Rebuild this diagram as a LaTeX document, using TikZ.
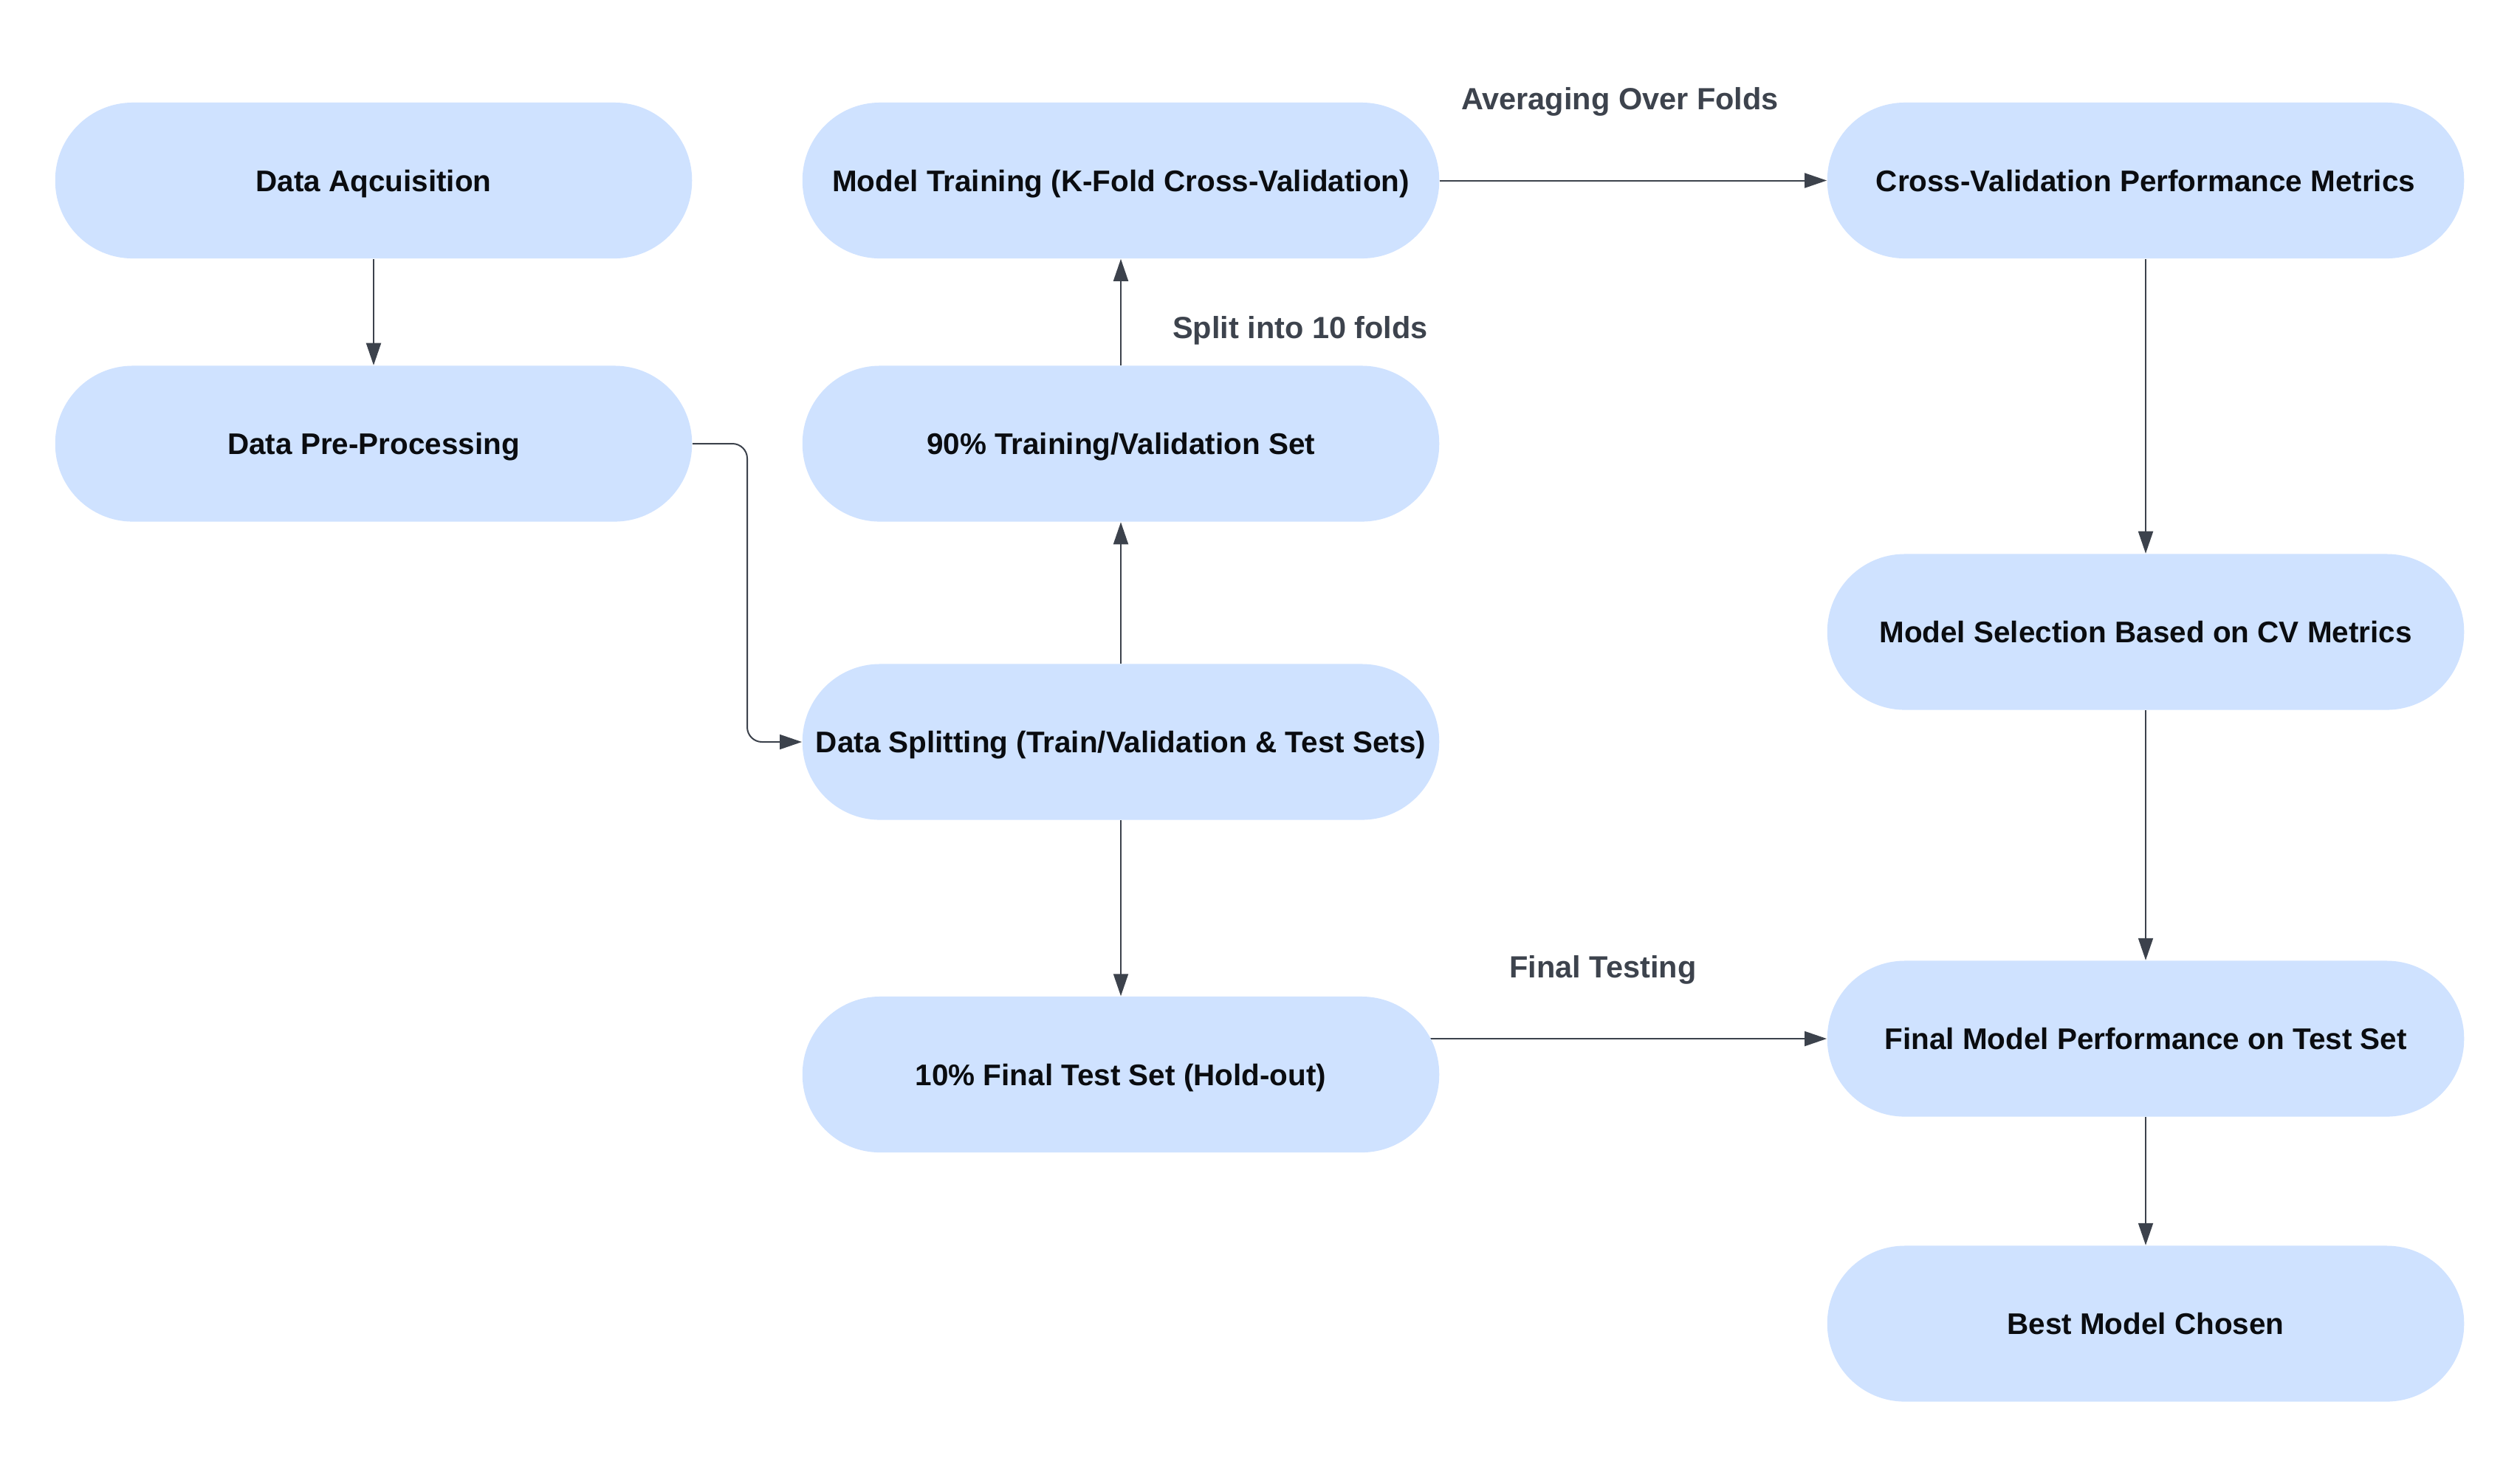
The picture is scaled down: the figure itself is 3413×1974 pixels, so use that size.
\documentclass[tikz,border=0pt]{standalone}
\usepackage{fontspec}
\setmainfont{Liberation Sans}
\usetikzlibrary{arrows.meta,backgrounds}
\definecolor{boxfill}{RGB}{207,226,255}
\definecolor{linegray}{RGB}{60,66,76}
\definecolor{labelgray}{RGB}{61,67,77}
\definecolor{textblack}{RGB}{10,12,16}
\begin{document}
\begin{tikzpicture}[x=0.01cm,y=-0.01cm,
  pill/.style={rectangle, rounded corners=1.05cm, fill=boxfill,
    minimum width=8.62cm, minimum height=2.11cm, inner sep=0pt,
    font=\fontsize{11.5}{14}\selectfont\bfseries, text=textblack,
    text height=8.3pt, text depth=0pt},
  flowlabel/.style={inner sep=0pt, font=\fontsize{11.8}{14}\selectfont\bfseries,
    text=labelgray, text height=8.5pt, text depth=0pt},
  arr/.style={draw=linegray, line width=0.02cm,
    -{Triangle[length=0.3cm,width=0.2cm]}}
]
\useasboundingbox (0,0) rectangle (3413,1974);

\node[pill] (acq)   at (506,244.5)  {Data Aqcuisition};
\node[pill] (pre)   at (506,601)    {Data Pre-Processing};
\node[pill] (train) at (1518,244.5) {Model Training (K-Fold Cross-Validation)};
\node[pill] (set90) at (1518,601)   {90\% Training/Validation Set};
\node[pill] (split) at (1518,1005)  {Data Splitting (Train/Validation \& Test Sets)};
\node[pill] (test)  at (1518,1455.5){10\% Final Test Set (Hold-out)};
\node[pill] (cvm)   at (2906,244.5) {Cross-Validation Performance Metrics};
\node[pill] (sel)   at (2906,856)   {Model Selection Based on CV Metrics};
\node[pill] (fin)   at (2906,1407)  {Final Model Performance on Test Set};
\node[pill] (best)  at (2906,1793)  {Best Model Chosen};

\node[flowlabel] (lavg)   at (2194,133.5) {Averaging Over Folds};
\node[flowlabel] (lsplit) at (1761,443.5) {Split into 10 folds};
\node[flowlabel] (lfin)   at (2171,1310)  {Final Testing};

\coordinate (bend) at (1012,601);

\begin{pgfonlayer}{background}
\fill[white] (0,0) rectangle (3413,1974);
\draw[arr] (acq.south) -- (pre.north);
\draw[arr, rounded corners=0.2cm] (pre.east) -- (bend) |- (split.west);
\draw[arr] (split.north) -- (set90.south);
\draw[arr] (set90.north) -- (train.south);
\draw[arr] (train.east) -- (cvm.west);
\draw[arr] (split.south) -- (test.north);
\draw[arr] (test.center |- fin.west) -- (fin.west);
\draw[arr] (cvm.south) -- (sel.north);
\draw[arr] (sel.south) -- (fin.north);
\draw[arr] (fin.south) -- (best.north);
\end{pgfonlayer}
\end{tikzpicture}
\end{document}
